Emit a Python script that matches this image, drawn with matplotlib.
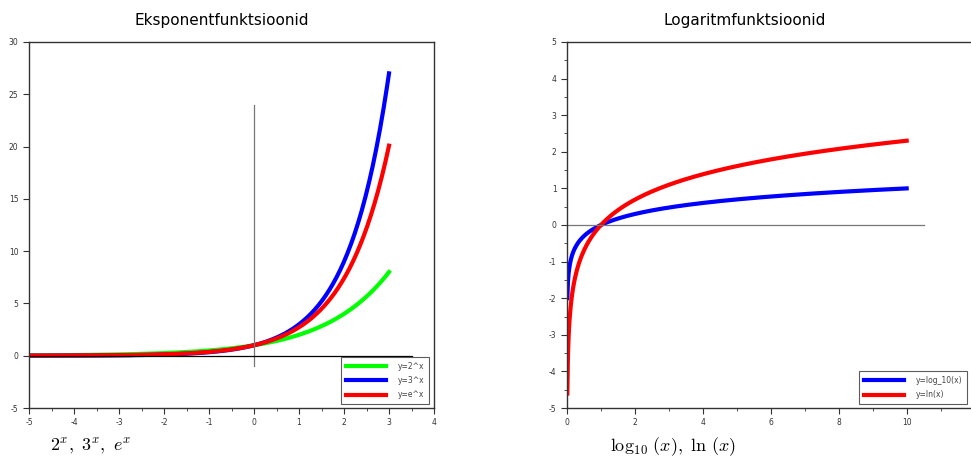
import matplotlib
matplotlib.use('Agg')
import matplotlib.pyplot as plt
import numpy as np
from matplotlib.ticker import MultipleLocator, FixedLocator

plt.rcParams['axes.unicode_minus'] = False
plt.rcParams['mathtext.fontset'] = 'cm'

# data
exp_x = np.linspace(-5, 3, 200)
exp_bases = [2.0, 3.0, np.e]
exp_labels = ['y=2^x', 'y=3^x', 'y=e^x']
exp_colors = ['#00ff00', '#0000ff', '#ff0000']

log_x = np.linspace(0.01, 10, 600)
log_funcs = [np.log10, np.log]
log_labels = ['y=log_10(x)', 'y=ln(x)']
log_colors = ['#0000ff', '#ff0000']

W, H = 971, 459
fig = plt.figure(figsize=(W / 100, H / 100), dpi=100)


def style_axes(ax):
    for s in ax.spines.values():
        s.set_linewidth(1.0)
        s.set_color('#333333')
    ax.tick_params(which='both', direction='out', top=False, right=False,
                   labelsize=5.5, labelcolor='#333333', color='#333333')
    ax.tick_params(which='major', length=4)
    ax.tick_params(which='minor', length=2.5)


def add_legend(ax, anchor):
    leg = ax.legend(loc='lower right', fontsize=5.5, fancybox=False, edgecolor='#333333',
                    handlelength=5.2, handletextpad=1.6, labelspacing=0.7,
                    borderpad=0.6, borderaxespad=0, labelcolor='#444444',
                    bbox_to_anchor=anchor, bbox_transform=fig.transFigure)
    leg.get_frame().set_linewidth(0.8)
    return leg


# left panel: exponentials
ax1 = fig.add_axes([29 / W, 51 / H, 405 / W, 366 / H])
for b, lab, c in zip(exp_bases, exp_labels, exp_colors):
    ax1.plot(exp_x, b ** exp_x, color=c, lw=3, label=lab)
ax1.plot([0, 0], [-1, 24], color='#777777', lw=0.9)
ax1.plot([-5, 3.5], [0, 0], color='black', lw=0.9)
ax1.set_xlim(-5, 4)
ax1.set_ylim(-5, 30)
ax1.xaxis.set_major_locator(MultipleLocator(1))
ax1.xaxis.set_minor_locator(MultipleLocator(0.5))
ax1.yaxis.set_major_locator(MultipleLocator(5))
style_axes(ax1)
add_legend(ax1, (429 / W, 1 - 404 / H))

# right panel: logarithms
ax2 = fig.add_axes([567 / W, 51 / H, 407.6 / W, 366 / H])
for f, lab, c in zip(log_funcs, log_labels, log_colors):
    ax2.plot(log_x, f(log_x), color=c, lw=3, label=lab)
ax2.plot([0, 10.5], [0, 0], color='#777777', lw=0.9)
ax2.set_xlim(0, 12)
ax2.set_ylim(-5, 5)
ax2.xaxis.set_major_locator(FixedLocator([0, 2, 4, 6, 8, 10]))
ax2.xaxis.set_minor_locator(FixedLocator([1, 3, 5, 7, 9, 11]))
ax2.yaxis.set_major_locator(MultipleLocator(1))
ax2.yaxis.set_minor_locator(MultipleLocator(0.5))
style_axes(ax2)
add_legend(ax2, (967 / W, 1 - 404 / H))

fig.text(222 / W, 1 - 20 / H, 'Eksponentfunktsioonid', ha='center', va='center', fontsize=11)
fig.text(745 / W, 1 - 20 / H, 'Logaritmfunktsioonid', ha='center', va='center', fontsize=11)

fig.text(50 / W, 1 - 447 / H, r'$2^x,\ 3^x,\ e^x$', ha='left', va='center', fontsize=13)
fig.text(610 / W, 1 - 447 / H, r'$\log_{10}\,(x),\ \ln\,(x)$',
         ha='left', va='center', fontsize=13)

fig.savefig('out.png', dpi=100)
